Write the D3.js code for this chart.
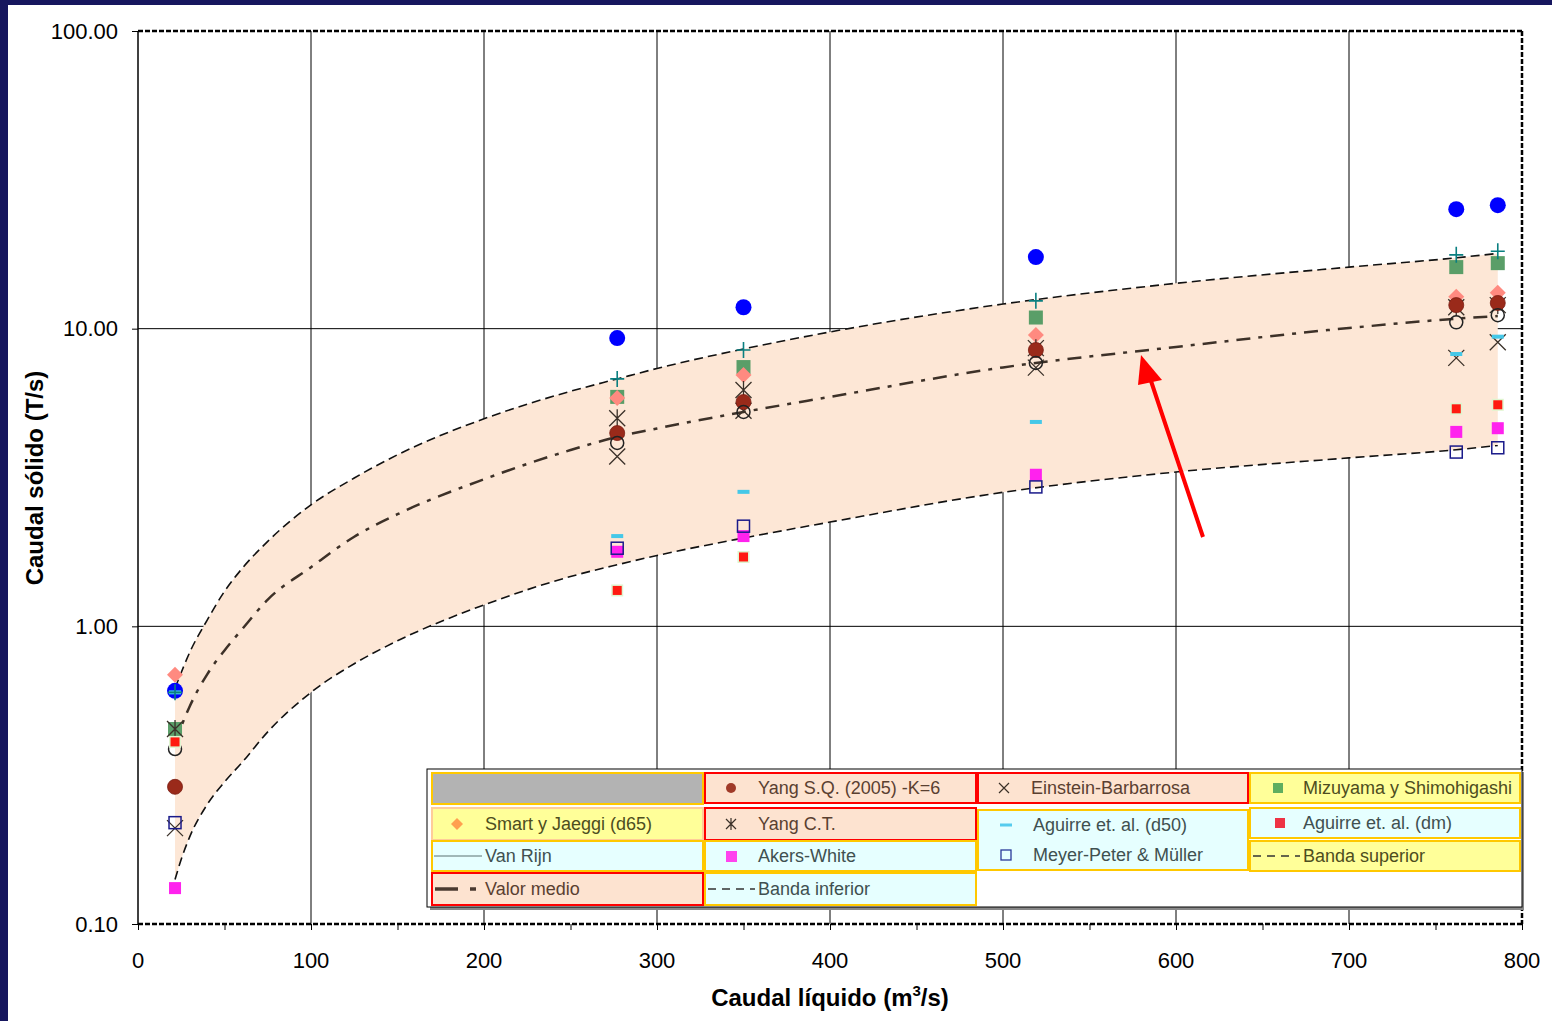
<!DOCTYPE html>
<html>
<head>
<meta charset="utf-8">
<script src="https://cdn.jsdelivr.net/npm/d3@7"></script>
<style>
  body { margin: 0; background: #fff; }
  svg { display: block; font-family: "Liberation Sans", Arial, sans-serif; }
</style>
</head>
<body>
<div id="chart"></div>
<script>
// caudal liquido of each measured point (m3/s)
const caudal = [21.4, 277, 350, 519, 762, 786];

// caudal solido per formula (T/s)
const azul = [0.607, 9.3, 11.8, 17.4, 25.2, 26.0];
const cruzVerde = [0.60, 6.78, 8.48, 12.4, 17.7, 18.2];
const yangSQ = [0.289, 4.46, 5.67, 8.48, 12.0, 12.2];
const einstein = [0.21, 3.72, 5.3, 7.4, 7.98, 9.0];
const mizuyama = [0.452, 5.9, 7.43, 10.9, 16.1, 16.6];
const smart = [0.687, 5.85, 6.99, 9.52, 12.8, 13.2];
const yangCT = [0.452, 5.0, 6.22, 8.6, 11.8, 12.0];
const aguirreD50 = [0.60, 2.01, 2.83, 4.86, 8.22, 9.4];
const aguirreDm = [0.409, 1.32, 1.71, null, 5.38, 5.55];
const akers = [0.132, 1.78, 2.01, 3.23, 4.50, 4.63];
const meyer = [0.219, 1.83, 2.17, 2.94, 3.85, 3.98];
const vanRijn = [0.387, 4.13, 5.25, 7.67, 10.5, 11.1];

// bandas
const bandaQ = [21.4, 25, 30, 40, 50, 60, 75, 100, 125, 150, 200, 250, 277, 300, 350, 400, 500, 600, 700, 762, 786];
const valorMedio = [0.40, 0.46, 0.54, 0.69, 0.83, 0.975, 1.23, 1.58, 2.0, 2.38, 3.12, 3.91, 4.33, 4.62, 5.25, 5.90, 7.41, 8.68, 10.05, 10.8, 11.03];
const bandaSup = [0.62, 0.70, 0.82, 1.05, 1.31, 1.56, 1.93, 2.56, 3.15, 3.77, 4.98, 6.16, 6.78, 7.35, 8.55, 9.75, 12.1, 14.2, 16.1, 17.3, 17.9];
const bandaInf = [0.141, 0.165, 0.197, 0.252, 0.30, 0.348, 0.442, 0.60, 0.749, 0.894, 1.18, 1.47, 1.61, 1.73, 1.98, 2.24, 2.82, 3.30, 3.68, 3.92, 4.05];

const xTicks = [0, 100, 200, 300, 400, 500, 600, 700, 800];
const yTicks = [0.1, 1, 10, 100];

const width = 1552;
const height = 1021;

const svg = d3.select('#chart')
    .append('svg')
    .attr('width', width)
    .attr('height', height);

// dark frame strips
svg.append('rect').attr('x', 0).attr('y', 0).attr('width', width).attr('height', 5).attr('fill', '#16165e');
svg.append('rect').attr('x', 0).attr('y', 0).attr('width', 8).attr('height', height).attr('fill', '#16165e');

const x = d3.scaleLinear().domain([0, 800]).range([138, 1522]);
const y = d3.scaleLog().domain([0.1, 100]).range([924, 31]);

// grid
svg.append('g')
    .selectAll('line')
    .data(xTicks.slice(1, -1))
    .join('line')
    .attr('x1', d => x(d)).attr('x2', d => x(d))
    .attr('y1', y(100)).attr('y2', y(0.1))
    .attr('stroke', '#000').attr('stroke-width', 1);

svg.append('g')
    .selectAll('line')
    .data([1, 10])
    .join('line')
    .attr('x1', x(0)).attr('x2', x(800))
    .attr('y1', d => y(d)).attr('y2', d => y(d))
    .attr('stroke', '#000').attr('stroke-width', 1);

// band fill
const area = d3.area()
    .curve(d3.curveMonotoneX)
    .x((d, i) => x(bandaQ[i]))
    .y0((d, i) => y(bandaInf[i]))
    .y1((d, i) => y(bandaSup[i]));

svg.append('path')
    .datum(bandaQ)
    .attr('d', area)
    .attr('fill', '#fde7d6');

const line = vals => d3.line()
    .curve(d3.curveMonotoneX)
    .x((d, i) => x(bandaQ[i]))
    .y((d, i) => y(vals[i]))(bandaQ);

svg.append('path').attr('d', line(bandaSup))
    .attr('fill', 'none').attr('stroke', '#111').attr('stroke-width', 1.6).attr('stroke-dasharray', '9,5');
svg.append('path').attr('d', line(bandaInf))
    .attr('fill', 'none').attr('stroke', '#111').attr('stroke-width', 1.6).attr('stroke-dasharray', '9,5');
svg.append('path').attr('d', line(valorMedio))
    .attr('fill', 'none').attr('stroke', '#3d3128').attr('stroke-width', 2.5).attr('stroke-dasharray', '14,8,4,8');

// markers
function drawMarker(g, type, cx, cy) {
    if (type === 'azul') {
        g.append('circle').attr('cx', cx).attr('cy', cy).attr('r', 8).attr('fill', '#0000ff');
    } else if (type === 'yangSQ') {
        g.append('circle').attr('cx', cx).attr('cy', cy).attr('r', 7.5).attr('fill', '#9a2a1a').attr('stroke', '#7a1a10').attr('stroke-width', 0.8);
    } else if (type === 'mizuyama') {
        g.append('rect').attr('x', cx - 7).attr('y', cy - 7).attr('width', 14).attr('height', 14).attr('fill', '#5a9e68');
    } else if (type === 'smart') {
        g.append('path').attr('d', `M${cx},${cy - 8}L${cx + 8},${cy}L${cx},${cy + 8}L${cx - 8},${cy}Z`).attr('fill', '#ff8a80');
    } else if (type === 'einstein') {
        g.append('path').attr('d', `M${cx - 8},${cy - 8}L${cx + 8},${cy + 8}M${cx + 8},${cy - 8}L${cx - 8},${cy + 8}`)
            .attr('stroke', '#3a3028').attr('stroke-width', 1.3);
    } else if (type === 'yangCT') {
        g.append('path').attr('d', `M${cx - 8},${cy - 8}L${cx + 8},${cy + 8}M${cx + 8},${cy - 8}L${cx - 8},${cy + 8}M${cx},${cy - 9}L${cx},${cy + 9}`)
            .attr('stroke', '#3a3028').attr('stroke-width', 1.3);
    } else if (type === 'vanRijn') {
        g.append('circle').attr('cx', cx).attr('cy', cy).attr('r', 6.5).attr('fill', 'none').attr('stroke', '#222').attr('stroke-width', 1.5);
    } else if (type === 'akers') {
        g.append('rect').attr('x', cx - 6).attr('y', cy - 6).attr('width', 12).attr('height', 12).attr('fill', '#ff22ee');
    } else if (type === 'meyer') {
        g.append('rect').attr('x', cx - 6).attr('y', cy - 6).attr('width', 12).attr('height', 12).attr('fill', 'none').attr('stroke', '#1a1a8a').attr('stroke-width', 1.5);
    } else if (type === 'aguirreDm') {
        g.append('rect').attr('x', cx - 6).attr('y', cy - 6).attr('width', 12).attr('height', 12).attr('fill', '#dff5cf');
        g.append('rect').attr('x', cx - 4.5).attr('y', cy - 4.5).attr('width', 9).attr('height', 9).attr('fill', '#ff1a10');
    } else if (type === 'aguirreD50') {
        g.append('rect').attr('x', cx - 6).attr('y', cy - 2).attr('width', 12).attr('height', 4).attr('fill', '#45c8e8');
    } else if (type === 'cruz') {
        g.append('path').attr('d', `M${cx - 7},${cy}L${cx + 7},${cy}M${cx},${cy - 8}L${cx},${cy + 8}`)
            .attr('stroke', '#0a7f80').attr('stroke-width', 1.6);
    }
}

const seriesOrder = [
    ['azul', azul], ['mizuyama', mizuyama], ['smart', smart], ['einstein', einstein],
    ['yangCT', yangCT], ['yangSQ', yangSQ], ['vanRijn', vanRijn], ['akers', akers],
    ['meyer', meyer], ['aguirreDm', aguirreDm], ['aguirreD50', aguirreD50], ['cruz', cruzVerde]
];

const marks = svg.append('g');
seriesOrder.forEach(([type, vals]) => {
    vals.forEach((v, i) => {
        if (v == null) return;
        drawMarker(marks, type, x(caudal[i]), y(v));
    });
});

// plot frame
svg.append('line').attr('x1', x(0)).attr('x2', x(0)).attr('y1', y(100)).attr('y2', y(0.1))
    .attr('stroke', '#000').attr('stroke-width', 1.5);
svg.append('line').attr('x1', x(0)).attr('x2', x(800)).attr('y1', y(100)).attr('y2', y(100))
    .attr('stroke', '#000').attr('stroke-width', 2.5).attr('stroke-dasharray', '5,2');
svg.append('line').attr('x1', x(0)).attr('x2', x(800)).attr('y1', y(0.1)).attr('y2', y(0.1))
    .attr('stroke', '#000').attr('stroke-width', 2.5).attr('stroke-dasharray', '5,2');
svg.append('line').attr('x1', x(800)).attr('x2', x(800)).attr('y1', y(100)).attr('y2', y(0.1))
    .attr('stroke', '#000').attr('stroke-width', 2.5).attr('stroke-dasharray', '5,2');

// axes
const xAxis = svg.append('g').attr('transform', `translate(0,${y(0.1)})`)
    .call(d3.axisBottom(x).tickValues(d3.range(0, 801, 50)).tickSize(6).tickFormat(''));
xAxis.select('.domain').remove();
xAxis.selectAll('line').attr('stroke', '#000');

svg.append('g')
    .selectAll('text')
    .data(xTicks)
    .join('text')
    .attr('x', d => x(d))
    .attr('y', 968)
    .attr('text-anchor', 'middle')
    .attr('font-size', 22)
    .attr('fill', '#000')
    .text(d => d);

const yAxis = svg.append('g').attr('transform', `translate(${x(0)},0)`)
    .call(d3.axisLeft(y).tickValues(yTicks).tickSize(6).tickPadding(14).tickFormat(d3.format('.2f')));
yAxis.select('.domain').remove();
yAxis.selectAll('line').attr('stroke', '#000');
yAxis.selectAll('text').attr('font-size', 22).attr('fill', '#000').attr('font-family', '"Liberation Sans", Arial, sans-serif');

// axis titles
const xTitle = svg.append('text')
    .attr('x', 830).attr('y', 1006)
    .attr('text-anchor', 'middle')
    .attr('font-size', 24).attr('font-weight', 'bold');
xTitle.append('tspan').text('Caudal líquido (m');
xTitle.append('tspan').attr('font-size', 15).attr('dy', -10).text('3');
xTitle.append('tspan').attr('dy', 10).text('/s)');

svg.append('text')
    .attr('transform', 'translate(43,478) rotate(-90)')
    .attr('text-anchor', 'middle')
    .attr('font-size', 24).attr('font-weight', 'bold')
    .text('Caudal sólido (T/s)');

// arrow annotation
svg.append('line').attr('x1', 1203).attr('y1', 537).attr('x2', 1150).attr('y2', 378)
    .attr('stroke', '#ff0000').attr('stroke-width', 4);
svg.append('path').attr('d', 'M1141,355L1162,380L1138,385Z').attr('fill', '#ff0000');

// legend
const legend = svg.append('g');
legend.append('rect').attr('x', 430).attr('y', 772).attr('width', 1094).attr('height', 138).attr('fill', '#888');
legend.append('rect').attr('x', 427).attr('y', 769).attr('width', 1095).attr('height', 138)
    .attr('fill', '#fff').attr('stroke', '#000').attr('stroke-width', 1);

const peach = '#fde3d0', yellow = '#ffff99', cyan = '#e6ffff';
const gold = '#ffc800', red = '#ff0000';

const cells = [
    { x: 432, y: 773, w: 271, h: 31, fill: '#b3b3b3', stroke: gold },
    { x: 705, y: 773, w: 271, h: 30, fill: peach, stroke: red, text: 'Yang S.Q. (2005) -K=6', sym: 'yangSQ', color: '#5a4030' },
    { x: 978, y: 773, w: 270, h: 30, fill: peach, stroke: red, text: 'Einstein-Barbarrosa', sym: 'einsteinL', color: '#5a4030' },
    { x: 1250, y: 773, w: 270, h: 30, fill: yellow, stroke: gold, text: 'Mizuyama y Shimohigashi', sym: 'mizuyamaL', color: '#4d4d20' },
    { x: 432, y: 808, w: 271, h: 32, fill: yellow, stroke: '#ffcc99', text: 'Smart y Jaeggi (d65)', sym: 'smartL', color: '#4d4d20' },
    { x: 705, y: 808, w: 271, h: 32, fill: peach, stroke: red, text: 'Yang C.T.', sym: 'yangCT', color: '#5a4030' },
    { x: 978, y: 810, w: 270, h: 60, fill: cyan, stroke: gold },
    { x: 1250, y: 808, w: 270, h: 30, fill: cyan, stroke: gold, text: 'Aguirre et. al. (dm)', sym: 'aguirreDmL', color: '#405050' },
    { x: 432, y: 841, w: 271, h: 30, fill: cyan, stroke: gold, text: 'Van Rijn', sym: 'lineVR', color: '#405050' },
    { x: 705, y: 841, w: 271, h: 30, fill: cyan, stroke: gold, text: 'Akers-White', sym: 'akersL', color: '#405050' },
    { x: 1250, y: 841, w: 270, h: 30, fill: yellow, stroke: gold, text: 'Banda superior', sym: 'dashes', color: '#4d4d20' },
    { x: 432, y: 873, w: 271, h: 32, fill: peach, stroke: red, text: 'Valor medio', sym: 'medio', color: '#5a4030' },
    { x: 705, y: 873, w: 271, h: 32, fill: cyan, stroke: gold, text: 'Banda inferior', sym: 'dashes', color: '#405050' }
];

const extra = [
    { x: 978, y: 810, h: 30, text: 'Aguirre et. al. (d50)', sym: 'aguirreD50', color: '#405050' },
    { x: 978, y: 840, h: 30, text: 'Meyer-Peter & Müller', sym: 'meyer', color: '#405050' }
];

function legendSymbol(sym, sx, cy) {
    if (sym === 'yangSQ') {
        legend.append('circle').attr('cx', sx + 26).attr('cy', cy).attr('r', 5).attr('fill', '#a03a28');
    } else if (sym === 'einsteinL') {
        legend.append('path').attr('d', `M${sx + 21},${cy - 5}L${sx + 31},${cy + 5}M${sx + 31},${cy - 5}L${sx + 21},${cy + 5}`)
            .attr('stroke', '#3a3028').attr('stroke-width', 1.2);
    } else if (sym === 'yangCT') {
        legend.append('path').attr('d', `M${sx + 21},${cy - 5}L${sx + 31},${cy + 5}M${sx + 31},${cy - 5}L${sx + 21},${cy + 5}M${sx + 26},${cy - 6}L${sx + 26},${cy + 6}`)
            .attr('stroke', '#3a3028').attr('stroke-width', 1.2);
    } else if (sym === 'mizuyamaL') {
        legend.append('rect').attr('x', sx + 23).attr('y', cy - 5).attr('width', 10).attr('height', 10).attr('fill', '#5fae5f');
    } else if (sym === 'smartL') {
        legend.append('path').attr('d', `M${sx + 25},${cy - 6}L${sx + 31},${cy}L${sx + 25},${cy + 6}L${sx + 19},${cy}Z`).attr('fill', '#ffa050');
    } else if (sym === 'aguirreDmL') {
        legend.append('rect').attr('x', sx + 25).attr('y', cy - 5).attr('width', 10).attr('height', 10).attr('fill', '#ee3344');
    } else if (sym === 'akersL') {
        legend.append('rect').attr('x', sx + 21).attr('y', cy - 5).attr('width', 11).attr('height', 11).attr('fill', '#ff44ee');
    } else if (sym === 'aguirreD50') {
        legend.append('rect').attr('x', sx + 22).attr('y', cy - 1.5).attr('width', 12).attr('height', 3).attr('fill', '#55ccee');
    } else if (sym === 'meyer') {
        legend.append('rect').attr('x', sx + 23).attr('y', cy - 5).attr('width', 10).attr('height', 10)
            .attr('fill', 'none').attr('stroke', '#2a3a9a').attr('stroke-width', 1.3);
    } else if (sym === 'lineVR') {
        legend.append('line').attr('x1', sx + 2).attr('x2', sx + 50).attr('y1', cy).attr('y2', cy)
            .attr('stroke', '#5a7070').attr('stroke-width', 1);
    } else if (sym === 'dashes') {
        legend.append('line').attr('x1', sx + 3).attr('x2', sx + 50).attr('y1', cy).attr('y2', cy)
            .attr('stroke', '#333').attr('stroke-width', 1.6).attr('stroke-dasharray', '8,6');
    } else if (sym === 'medio') {
        legend.append('line').attr('x1', sx + 3).attr('x2', sx + 26).attr('y1', cy).attr('y2', cy)
            .attr('stroke', '#4a3a30').attr('stroke-width', 3.5);
        legend.append('line').attr('x1', sx + 38).attr('x2', sx + 44).attr('y1', cy).attr('y2', cy)
            .attr('stroke', '#4a3a30').attr('stroke-width', 3.5);
    }
}

cells.forEach(c => {
    legend.append('rect').attr('x', c.x).attr('y', c.y).attr('width', c.w).attr('height', c.h)
        .attr('fill', c.fill).attr('stroke', c.stroke).attr('stroke-width', 2);
    if (!c.text) return;
    const cy = c.y + c.h / 2;
    legendSymbol(c.sym, c.x, cy);
    legend.append('text').attr('x', c.x + 53).attr('y', cy + 6)
        .attr('font-size', 18).attr('fill', c.color).text(c.text);
});

extra.forEach(c => {
    const cy = c.y + c.h / 2;
    legendSymbol(c.sym, c.x, cy);
    legend.append('text').attr('x', c.x + 55).attr('y', cy + 6)
        .attr('font-size', 18).attr('fill', c.color).text(c.text);
});
</script>
</body>
</html>
